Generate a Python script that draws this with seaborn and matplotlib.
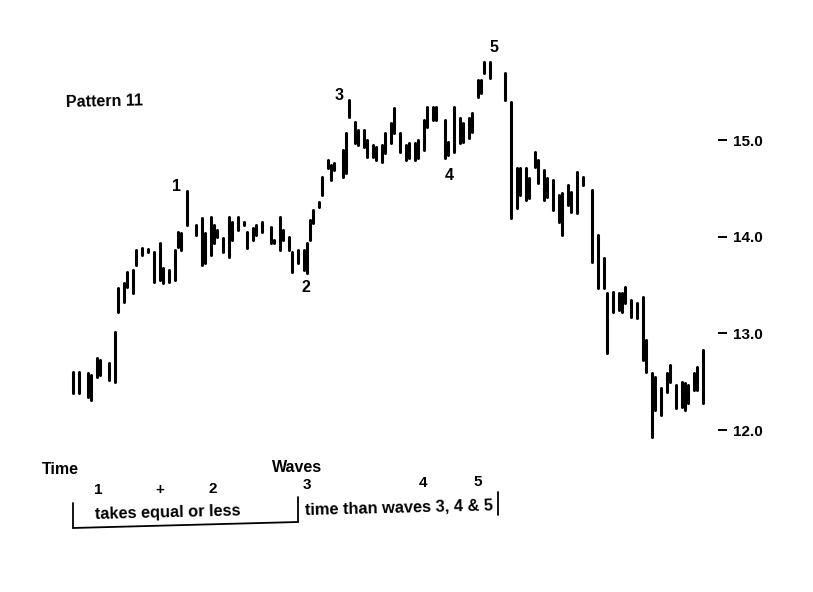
import numpy as np
import pandas as pd
import matplotlib
matplotlib.use("Agg")
import matplotlib.pyplot as plt
import seaborn as sns

# ---- data ----
day = [0, 2, 5, 6, 8, 9, 12, 14, 15, 17, 18, 20, 21, 23, 25, 27, 29, 30, 32, 34, 35, 36,
       38, 41, 43, 44, 46, 47, 48, 50, 52, 53, 55, 57, 58, 60, 61, 63, 66, 67, 69, 70, 72,
       73, 75, 77, 78, 79, 80, 82, 83, 85, 86, 87, 90, 91, 92, 94, 95, 97, 98, 100, 101,
       103, 104, 106, 107, 109, 111, 112, 114, 115, 117, 118, 120, 121, 124, 125, 127, 129,
       130, 132, 133, 135, 136, 137, 139, 144, 146, 148, 149, 151, 152, 154, 155, 157, 158,
       160, 162, 163, 165, 166, 168, 170, 173, 175, 177, 178, 180, 182, 183, 184, 186, 188,
       190, 191, 193, 194, 196, 198, 199, 201, 203, 204, 205, 207, 208, 210]
high = [12.60, 12.60, 12.59, 12.57, 12.74, 12.72, 12.69, 13.01, 13.47, 13.52, 13.63, 13.66,
        13.86, 13.88, 13.87, 13.84, 13.93, 13.68, 13.66, 13.86, 14.05, 14.04,
        14.47, 14.12, 14.19, 14.04, 14.20, 14.12, 14.07, 13.99, 14.20, 14.15, 14.20, 14.15,
        14.05, 14.09, 14.12, 14.15, 14.10, 13.97, 14.20, 14.07, 14.00,
        13.84, 13.86, 13.86, 13.93, 14.17, 14.28, 14.36, 14.62, 14.79, 14.74, 14.76, 14.90,
        15.07, 15.41, 15.19, 15.10, 15.10, 15.00, 14.95, 14.93,
        14.95, 15.07, 15.18, 15.33, 15.07, 14.95, 14.97, 14.97, 15.00, 15.21, 15.34, 15.34,
        15.34, 15.21, 14.98, 15.34, 15.23,
        15.18, 15.23, 15.28, 15.62, 15.62, 15.81, 15.81, 15.69, 15.39, 14.71, 14.71, 14.71,
        14.61, 14.88, 14.79, 14.69, 14.61,
        14.59, 14.43, 14.45, 14.53, 14.46, 14.67, 14.62, 14.48, 14.02, 13.78, 13.42, 13.43,
        13.42, 13.42, 13.48, 13.34, 13.31,
        13.38, 12.93, 12.59, 12.55, 12.43, 12.59, 12.67, 12.47, 12.50, 12.49, 12.47, 12.59,
        12.65, 12.83]
low = [12.38, 12.38, 12.34, 12.31, 12.55, 12.57, 12.52, 12.50, 13.22, 13.32, 13.48, 13.42,
       13.71, 13.81, 13.84, 13.53, 13.55, 13.52, 13.53, 13.55, 13.89, 13.86,
       14.12, 14.02, 13.71, 13.73, 13.81, 13.93, 14.00, 13.84, 13.79, 13.97, 14.07, 14.12,
       13.88, 13.97, 14.02, 14.05, 13.93, 13.93, 13.86, 13.97, 13.86,
       13.63, 13.73, 13.66, 13.62, 13.97, 14.14, 14.31, 14.43, 14.71, 14.59, 14.69, 14.62,
       14.66, 15.24, 14.97, 14.95, 14.93, 14.82, 14.82, 14.79,
       14.77, 14.87, 14.97, 15.07, 14.88, 14.79, 14.81, 14.79, 14.81, 14.90, 15.13, 15.21,
       15.21, 14.81, 14.84, 14.88, 14.97,
       14.98, 15.02, 15.08, 15.44, 15.49, 15.69, 15.64, 15.41, 14.19, 14.30, 14.43, 14.38,
       14.40, 14.72, 14.56, 14.38, 14.41,
       14.28, 14.15, 14.02, 14.33, 14.26, 14.24, 14.53, 13.74, 13.47, 13.47, 12.80, 13.22,
       13.24, 13.22, 13.31, 13.17, 13.16,
       12.72, 12.60, 11.93, 12.21, 12.16, 12.39, 12.50, 12.23, 12.24, 12.21, 12.28, 12.41,
       12.41, 12.28]

price_ticks = [12.0, 13.0, 14.0, 15.0]
price_labels = ["12.0", "13.0", "14.0", "15.0"]

wave_labels = ["1", "2", "3", "4", "5"]
wave_pos = [(176, 186), (306, 287), (339, 95), (449, 175), (494, 48)]  # annotation pixel positions

# ---- build long table: each bar = two points (high, low) joined by a line ----
n = len(day)
df = pd.DataFrame({
    "bar": np.repeat(np.arange(n), 2),
    "day": np.repeat(day, 2),
    "price": np.ravel(np.column_stack([high, low])),
})

W, H = 813, 592
sns.set_style("white")
plt.rcParams["font.family"] = ["Liberation Sans", "DejaVu Sans"]
plt.rcParams["text.color"] = "black"

fig = plt.figure(figsize=(W / 100, H / 100), dpi=100)
ax_right_px = 718
ax = fig.add_axes([0, 0, ax_right_px / W, 1])

sns.lineplot(data=df, x="day", y="price", units="bar", estimator=None,
             color="black", linewidth=2.2, ax=ax, legend=False, sort=False)

# map: x pixel = 73 + 3*day ; price 15.0 at y=140, 96.67 px per unit
ax.set_xlim((0 - 73) / 3, (ax_right_px - 73) / 3)
ax.set_ylim(15 - (H - 140) / 96.67, 15 + 140 / 96.67)

for s in ax.spines.values():
    s.set_visible(False)
ax.set_xticks([])
ax.set_xlabel("")
ax.set_ylabel("")
ax.yaxis.tick_right()
ax.set_yticks(price_ticks)
ax.set_yticklabels(price_labels)
ax.tick_params(axis="y", which="both", right=True, left=False, direction="out",
               length=6.5, width=1.4, pad=4, labelsize=11, colors="black")
for t in ax.get_yticklabels():
    t.set_fontweight("bold")


def fx(x):
    return x / W


def fy(y):
    return 1 - y / H


bold = dict(fontweight="bold", color="black")
fig.text(fx(66), fy(102), "Pattern 11", fontsize=11.5,
         ha="left", va="center", rotation=1.2, **bold)
for lab, (px, py) in zip(wave_labels, wave_pos):
    fig.text(fx(px), fy(py), lab, fontsize=11.5, ha="center", va="center", **bold)

# bottom time annotation
fig.text(fx(42), fy(469), "Time", fontsize=11.5, ha="left", va="center", **bold)
fig.text(fx(297), fy(467), "Waves", fontsize=11.5, ha="center", va="center", **bold)
for lab, px, py in [("1", 98, 490), ("+", 160, 490), ("2", 213, 489),
                    ("3", 307, 485), ("4", 423, 483), ("5", 478, 482)]:
    fig.text(fx(px), fy(py), lab, fontsize=11, ha="center", va="center", **bold)
fig.text(fx(95), fy(513), "takes equal or less", fontsize=11.8, ha="left",
         va="center", rotation=1.4, **bold)
fig.text(fx(305), fy(508), "time than waves 3, 4 & 5", fontsize=11.8, ha="left",
         va="center", rotation=1.4, **bold)

lk = dict(color="black", linewidth=1.3, transform=fig.transFigure, clip_on=False)
fig.add_artist(plt.Line2D([fx(73), fx(73)], [fy(503), fy(528)], **lk))
fig.add_artist(plt.Line2D([fx(73), fx(298)], [fy(528), fy(522)], **lk))
fig.add_artist(plt.Line2D([fx(298), fx(298)], [fy(497), fy(522)], **lk))
fig.add_artist(plt.Line2D([fx(498), fx(498)], [fy(492), fy(515)], **lk))

fig.savefig("out.png", dpi=100, facecolor="white")
